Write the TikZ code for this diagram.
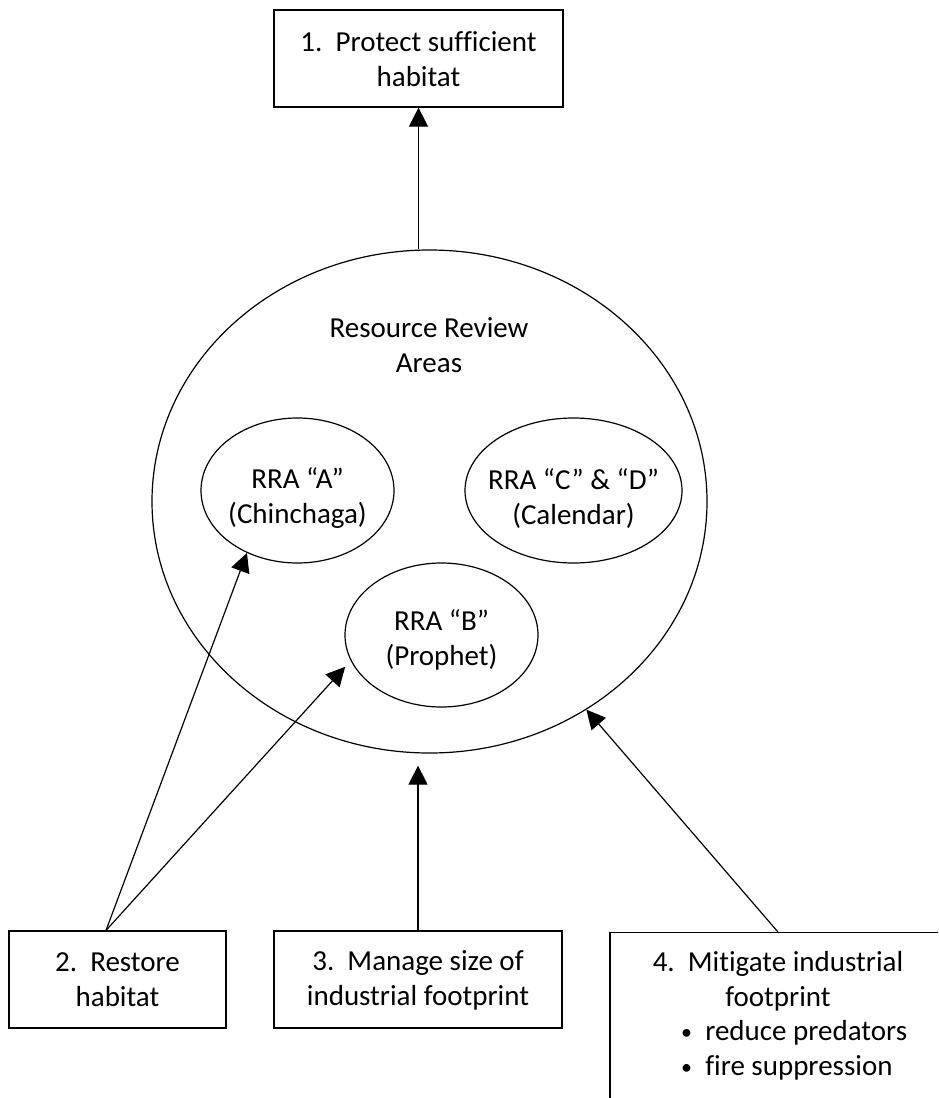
\documentclass[tikz,border=0pt]{standalone}
\usepackage{fontspec}
\setmainfont{Carlito}[RawFeature={-liga}]
\usetikzlibrary{arrows.meta,shapes.geometric}

\newcommand{\smallbullet}{\raisebox{1.5pt}{\fontsize{22}{22}\selectfont •}}

\tikzset{
  txt/.style={font=\fontsize{29}{35}\selectfont, align=center, inner sep=0pt},
  boxnode/.style={draw, line width=1.2pt, rectangle, inner sep=0pt},
  ell/.style={draw, line width=1.2pt, ellipse, inner sep=0pt},
  arr/.style={line width=1.2pt, -{Triangle[length=19pt,width=19pt]}},
}

\begin{document}
\begin{tikzpicture}[x=1pt,y=-1pt]
\useasboundingbox (0,0) rectangle (938,1098);
\clip (0,0) rectangle (938,1098);

% goal box at the top
\node[boxnode, minimum width=289, minimum height=97] (box1) at (418.5,58.5) {};
\node[txt] (t1) at (418.5,59) {1.\ \ Protect sufficient\\habitat};

% resource review areas
\node[ell, minimum width=555, minimum height=503] (big) at (429.5,501.5) {};
\node[txt] (tbig) at (429,345) {Resource Review\\Areas};

\node[ell, minimum width=193, minimum height=145] (aEll) at (297.5,490.5) {};
\node[txt] (ta) at (297.5,498.5) {RRA “A”\\(Chinchaga)};

\node[ell, minimum width=217, minimum height=145] (cdEll) at (573.5,490.5) {};
\node[txt] (tcd) at (573.5,498.5) {RRA “C” \& “D”\\(Calendar)};

\node[ell, minimum width=193, minimum height=144] (bEll) at (441.5,635) {};
\node[txt] (tb) at (441.5,640) {RRA “B”\\(Prophet)};

% action boxes at the bottom
\node[boxnode, minimum width=217, minimum height=97] (box2) at (117.5,979.5) {};
\node[txt] (t2) at (117.5,980) {2.\ \ Restore\\habitat};

\node[boxnode, minimum width=288, minimum height=97] (box3) at (418,979.5) {};
\node[txt] (t3) at (418,980) {3.\ \ Manage size of\\industrial footprint};

\node[boxnode, minimum width=336, minimum height=200, anchor=north] (box4) at (778,932) {};
\node[txt] (t4) at (778,981) {4.\ \ Mitigate industrial\\footprint};
\node[txt, anchor=west] (t4a) at (681,1033) {\smallbullet\ \ reduce predators};
\node[txt, anchor=west] (t4b) at (681,1068) {\smallbullet\ \ fire suppression};

% connector end points
\path (box2.north) ++(-11.5,0) coordinate (s2);
\path (box3.north |- big.south) ++(0,12) coordinate (tip3);
\path (bEll.200) ++(-9,0) coordinate (tipB);

% connectors
\draw[arr] (box1.south |- big.north) -- (box1.south);
\draw[arr] (s2) -- (aEll.231);
\draw[arr] (s2) -- (tipB);
\draw[arr] (box3.north) -- (tip3);
\draw[arr] (box4.north) -- (big.307);
\end{tikzpicture}
\end{document}
